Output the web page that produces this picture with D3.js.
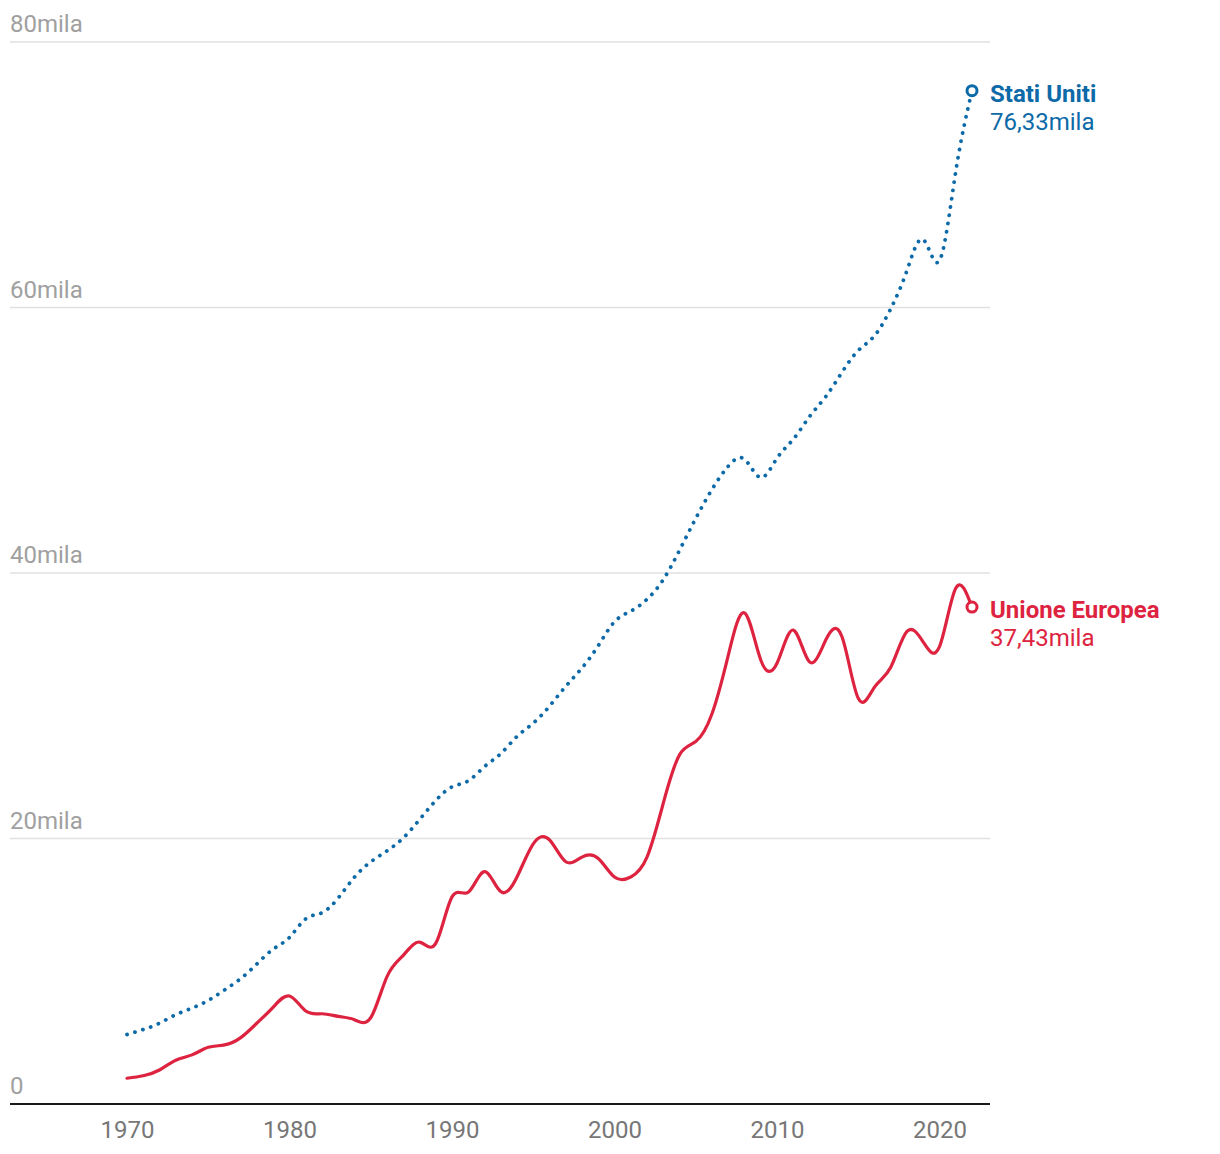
<!DOCTYPE html>
<html>
<head>
<meta charset="utf-8">
<script src="https://cdn.jsdelivr.net/npm/d3@7"></script>
<style>
  html, body { margin: 0; padding: 0; background: #fff; }
  svg { display: block; font-family: Roboto, "Noto Sans", sans-serif; }
</style>
</head>
<body>
<svg id="chart" width="1220" height="1154"></svg>
<script>
const years = d3.range(1970, 2023);

const usValues = [5.23, 5.61, 6.09, 6.73, 7.23, 7.80, 8.59, 9.45, 10.56, 11.67,
  12.55, 13.95, 14.41, 15.52, 17.09, 18.24, 19.07, 20.04, 21.42, 22.86,
  23.89, 24.34, 25.42, 26.39, 27.69, 28.69, 29.97, 31.46, 32.85, 34.52,
  36.33, 37.13, 38.02, 39.50, 41.71, 44.11, 46.30, 48.05, 48.57, 47.19,
  48.65, 50.07, 51.78, 53.29, 55.12, 56.76, 57.87, 59.91, 62.79, 65.12,
  63.53, 70.25, 76.33];

const euValues = [1.94, 2.13, 2.56, 3.30, 3.70, 4.27, 4.45, 5.00, 6.10, 7.30,
  8.14, 7.00, 6.80, 6.60, 6.35, 6.50, 9.60, 11.20, 12.20, 12.10,
  15.60, 15.95, 17.50, 16.00, 17.10, 19.60, 19.90, 18.25, 18.60, 18.50,
  17.10, 17.10, 18.60, 22.65, 26.30, 27.30, 29.40, 33.80, 37.00, 33.45,
  33.20, 35.70, 33.30, 34.95, 35.20, 30.56, 31.40, 32.90, 35.60, 34.80,
  34.45, 38.85, 37.43];

const yTicks = [0, 20, 40, 60, 80];
const yTickLabels = ["0", "20mila", "40mila", "60mila", "80mila"];
const xTicks = [1970, 1980, 1990, 2000, 2010, 2020];

const seriesNames = ["Stati Uniti", "Unione Europea"];
const seriesColors = ["#0d6aa8", "#dd2340"];

const svg = d3.select("#chart");
const x = d3.scaleLinear().domain([1970, 2022]).range([127, 972]);
const y = d3.scaleLinear().domain([0, 80]).range([1104, 42]);
const left = 10, right = 990;

// gridlines
svg.append("g").selectAll("line").data(yTicks.filter(d => d > 0)).join("line")
  .attr("x1", left).attr("x2", right)
  .attr("y1", d => y(d)).attr("y2", d => y(d))
  .attr("stroke", "#e1e1e1").attr("stroke-width", 1.3);

// y tick labels
svg.append("g").selectAll("text").data(yTicks).join("text")
  .attr("x", left).attr("y", d => y(d) - 10)
  .attr("font-size", 24).attr("fill", "#a0a0a0")
  .text((d, i) => yTickLabels[i]);

// baseline axis
svg.append("line").attr("x1", left).attr("x2", right)
  .attr("y1", y(0)).attr("y2", y(0))
  .attr("stroke", "#1a1a1a").attr("stroke-width", 2);

// x axis
const xAxis = d3.axisBottom(x).tickValues(xTicks).tickFormat(d3.format("d")).tickSize(0).tickPadding(0);
const gx = svg.append("g").attr("transform", `translate(0,${y(0)})`).call(xAxis);
gx.select(".domain").remove();
gx.selectAll("text").attr("font-size", 24).attr("fill", "#777").attr("font-family", "Roboto, sans-serif")
  .attr("dy", null).attr("y", 34);

const line = d3.line().x(d => x(d[0])).y(d => y(d[1])).curve(d3.curveNatural);

const usData = years.map((yr, i) => [yr, usValues[i]]);
const euData = years.map((yr, i) => [yr, euValues[i]]);

svg.append("path").datum(euData).attr("d", line)
  .attr("fill", "none").attr("stroke", seriesColors[1]).attr("stroke-width", 3.2)
  .attr("stroke-linejoin", "round").attr("stroke-linecap", "round");

svg.append("path").datum(usData).attr("d", line)
  .attr("fill", "none").attr("stroke", seriesColors[0]).attr("stroke-width", 3.8)
  .attr("stroke-linecap", "round").attr("stroke-dasharray", "0.1,8.2");

const fmt = v => v.toFixed(2).replace(".", ",") + "mila";

[usData, euData].forEach((data, i) => {
  const last = data[data.length - 1];
  const cx = x(last[0]), cy = y(last[1]);
  svg.append("circle").attr("cx", cx).attr("cy", cy).attr("r", 5)
    .attr("fill", "#fff").attr("stroke", seriesColors[i]).attr("stroke-width", 3);
  const t = svg.append("text").attr("fill", seriesColors[i]).attr("font-size", 24);
  t.append("tspan").attr("x", 990).attr("y", cy + 11).attr("font-weight", "bold").text(seriesNames[i]);
  t.append("tspan").attr("x", 990).attr("y", cy + 39).text(fmt(last[1]));
});
</script>
</body>
</html>
